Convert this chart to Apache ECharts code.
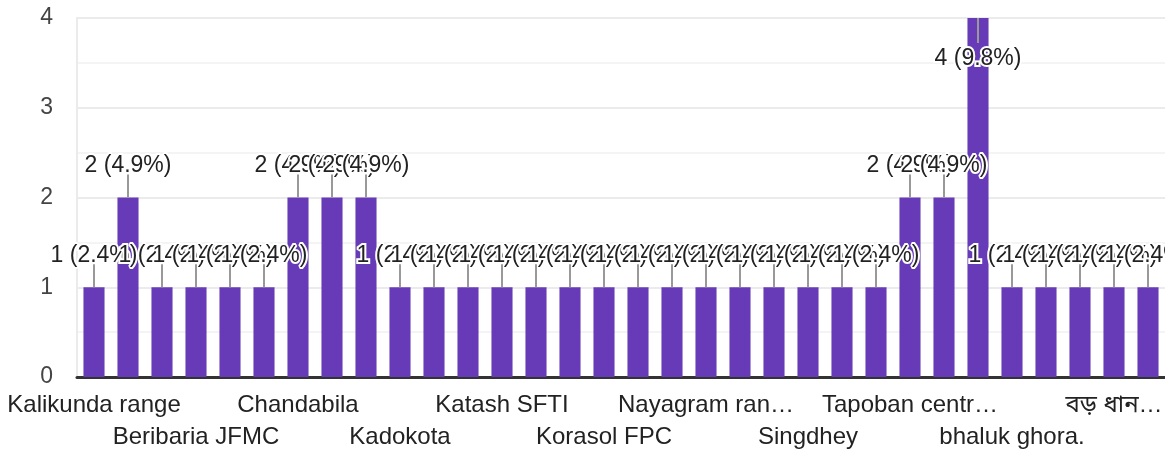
<!DOCTYPE html>
<html>
<head>
<meta charset="utf-8">
<title>Responses</title>
<script src="https://cdn.jsdelivr.net/npm/echarts@6/dist/echarts.min.js"></script>
<style>
  html, body { margin: 0; padding: 0; background: #fff; }
  #chart { width: 1165px; height: 450px; }
</style>
</head>
<body>
<div id="chart"></div>
<script>
// categories (only every third name is readable in the picture, the rest are placeholders)
var categories = [
  'Kalikunda range', 'Response 2', 'Response 3',
  'Beribaria JFMC', 'Response 5', 'Response 6',
  'Chandabila', 'Response 8', 'Response 9',
  'Kadokota', 'Response 11', 'Response 12',
  'Katash SFTI', 'Response 14', 'Response 15',
  'Korasol FPC', 'Response 17', 'Response 18',
  'Nayagram ran\u2026', 'Response 20', 'Response 21',
  'Singdhey', 'Response 23', 'Response 24',
  'Tapoban centr\u2026', 'Response 26', 'Response 27',
  'bhaluk ghora.', 'Response 29', 'Response 30',
  'বড় ধান\u2026', 'Response 32'
];
// number of responses per category
var counts = [1, 2, 1, 1, 1, 1, 2, 2, 2, 1, 1, 1, 1, 1, 1, 1,
              1, 1, 1, 1, 1, 1, 1, 1, 2, 2, 4, 1, 1, 1, 1, 1];
var yTicks = [0, 1, 2, 3, 4];

var total = counts.reduce(function (a, b) { return a + b; }, 0);
var FONT = 'Arial, "Liberation Sans", "Noto Sans Bengali", "Noto Sans", sans-serif';

function labelText(v) {
  return v + ' (' + (v / total * 100).toFixed(1) + '%)';
}

// every third name is shown, alternating between two rows
function xLabelAxis(row, margin, showLine) {
  return {
    type: 'category',
    position: 'bottom',
    data: categories,
    axisTick: { show: false },
    axisLine: { show: showLine, lineStyle: { color: '#333', width: 3 } },
    axisLabel: {
      interval: function (i) { return i % 6 === row * 3; },
      showMinLabel: true,
      showMaxLabel: true,
      margin: margin,
      color: '#222',
      fontSize: 24,
      fontFamily: FONT,
      lineHeight: 32
    }
  };
}

var chart = echarts.init(document.getElementById('chart'));

chart.setOption({
  animation: false,
  grid: { left: 77, right: 0, top: 18, bottom: 73, outerBoundsMode: 'none' },
  xAxis: [xLabelAxis(0, 12, true), xLabelAxis(1, 44, false)],
  yAxis: {
    type: 'value',
    min: yTicks[0],
    max: yTicks[yTicks.length - 1],
    interval: 0.5,
    axisLine: { show: true, lineStyle: { color: '#ebebeb', width: 2 } },
    axisTick: { show: false },
    splitLine: { lineStyle: { color: ['#ebebeb', '#f4f4f4'], width: 2 } },
    axisLabel: {
      margin: 24,
      color: '#444',
      fontSize: 23,
      fontFamily: FONT,
      formatter: function (v) {
        return yTicks.indexOf(v) >= 0 ? String(v) : '';
      }
    }
  },
  series: [
    {
      type: 'bar',
      data: counts,
      barWidth: '62%',
      itemStyle: { color: '#673ab7' }
    },
    {
      // value labels with small leader lines, drawn over the bars
      type: 'custom',
      z: 5,
      data: counts.map(function (v, i) { return [i, v]; }),
      encode: { x: 0, y: 1 },
      renderItem: function (params, api) {
        var v = api.value(1);
        var p = api.coord([api.value(0), v]);
        var top = params.coordSys.y;
        var down = p[1] - 44 < top;
        var lineEnd = down ? p[1] + 25 : p[1] - 23;
        var textY = down ? p[1] + 41 : p[1] - 32;
        return {
          type: 'group',
          children: [
            {
              type: 'line',
              shape: { x1: p[0], y1: p[1], x2: p[0], y2: lineEnd },
              style: { stroke: '#999', lineWidth: 2 }
            },
            {
              type: 'text',
              style: {
                text: labelText(v),
                x: p[0],
                y: textY,
                align: 'center',
                verticalAlign: 'middle',
                fill: '#222',
                stroke: '#fff',
                lineWidth: 4,
                fontSize: 23,
                fontFamily: FONT
              }
            }
          ]
        };
      }
    }
  ]
});
</script>
</body>
</html>
